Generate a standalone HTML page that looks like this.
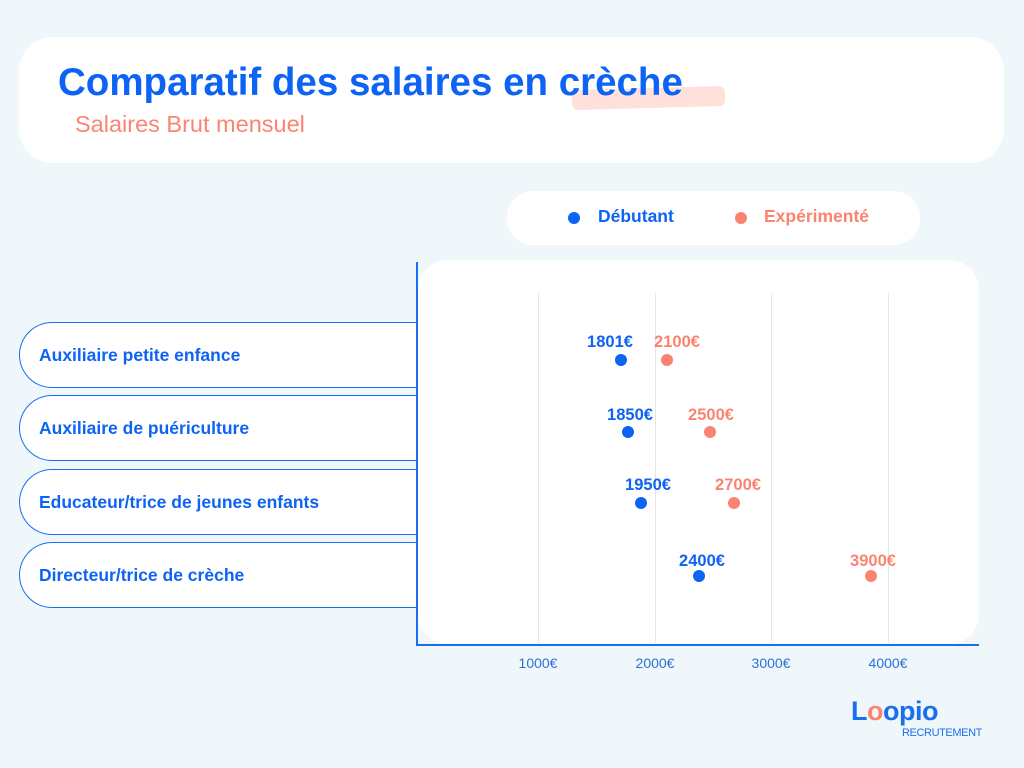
<!DOCTYPE html>
<html><head><meta charset="utf-8"><style>
*{margin:0;padding:0;box-sizing:border-box}
body{width:1024px;height:768px;background:#eff7fb;font-family:"Liberation Sans",sans-serif;position:relative;overflow:hidden}
.abs{position:absolute}
.card{background:#fff}
.t{color:#0d63f3;font-weight:bold}
.pill{position:absolute;left:19px;width:399px;height:66px;background:#fff;border:1.3px solid #1a6ff0;border-right:none;border-radius:33px 0 0 33px;color:#0d63f3;font-weight:bold;font-size:17.5px;padding-left:19px;line-height:64px}
.dot{position:absolute;width:12px;height:12px;border-radius:50%}
.b{background:#0d63f3}.o{background:#fb8470}
.lab{position:absolute;font-weight:bold;font-size:16.5px;transform:translateX(-50%)}
.lb{color:#0d63f3}.lo{color:#fb8470}
.g{position:absolute;top:293px;height:350px;width:1px;background:#e4e6ea}
.tick{position:absolute;top:655px;font-size:14px;color:#2e6fd6;transform:translateX(-50%)}
</style></head><body>
<div class="abs card" style="left:19px;top:37px;width:985px;height:126px;border-radius:34px"></div>
<div class="abs" style="left:572px;top:88px;width:153px;height:20px;background:#ffe0da;border-radius:6px;transform:rotate(-1.5deg)"></div>
<div class="abs t" style="left:58px;top:61px;font-size:38.5px;letter-spacing:0px">Comparatif des salaires en crèche</div>
<div class="abs" style="left:75px;top:111px;font-size:23.5px;color:#fb8470">Salaires Brut mensuel</div>

<div class="abs card" style="left:507px;top:191px;width:413px;height:54px;border-radius:26px"></div>
<div class="dot b" style="left:568px;top:212px"></div>
<div class="abs t" style="left:598px;top:206px;font-size:17.5px">Débutant</div>
<div class="dot o" style="left:735px;top:212px"></div>
<div class="abs" style="left:764px;top:206px;font-size:17.5px;font-weight:bold;color:#fb8470">Expérimenté</div>

<div class="abs card" style="left:418px;top:260px;width:561px;height:384px;border-radius:30px"></div>
<div class="g" style="left:538px"></div><div class="g" style="left:655px"></div><div class="g" style="left:771px"></div><div class="g" style="left:888px"></div>

<div class="pill" style="top:322px">Auxiliaire petite enfance</div>
<div class="pill" style="top:395px">Auxiliaire de puériculture</div>
<div class="pill" style="top:469px">Educateur/trice de jeunes enfants</div>
<div class="pill" style="top:542px">Directeur/trice de crèche</div>

<div class="abs" style="left:416px;top:262px;width:1.5px;height:384px;background:#1a6ff0"></div>
<div class="abs" style="left:416px;top:644px;width:563px;height:1.5px;background:#1a6ff0"></div>

<div class="dot b" style="left:615px;top:354px"></div><div class="lab lb" style="left:610px;top:333px">1801€</div>
<div class="dot o" style="left:661px;top:354px"></div><div class="lab lo" style="left:677px;top:333px">2100€</div>
<div class="dot b" style="left:622px;top:426px"></div><div class="lab lb" style="left:630px;top:406px">1850€</div>
<div class="dot o" style="left:704px;top:426px"></div><div class="lab lo" style="left:711px;top:406px">2500€</div>
<div class="dot b" style="left:635px;top:497px"></div><div class="lab lb" style="left:648px;top:476px">1950€</div>
<div class="dot o" style="left:728px;top:497px"></div><div class="lab lo" style="left:738px;top:476px">2700€</div>
<div class="dot b" style="left:693px;top:570px"></div><div class="lab lb" style="left:702px;top:552px">2400€</div>
<div class="dot o" style="left:865px;top:570px"></div><div class="lab lo" style="left:873px;top:552px">3900€</div>

<div class="tick" style="left:538px">1000€</div>
<div class="tick" style="left:655px">2000€</div>
<div class="tick" style="left:771px">3000€</div>
<div class="tick" style="left:888px">4000€</div>

<div class="abs" style="left:851px;top:696px;font-size:27px;font-weight:bold;color:#1a6ff0;letter-spacing:-0.5px">L<span style="color:#fb8470">o</span>opio</div>
<div class="abs" style="left:902px;top:727px;font-size:11px;color:#1a6ff0;letter-spacing:-0.4px">RECRUTEMENT</div>
</body></html>
